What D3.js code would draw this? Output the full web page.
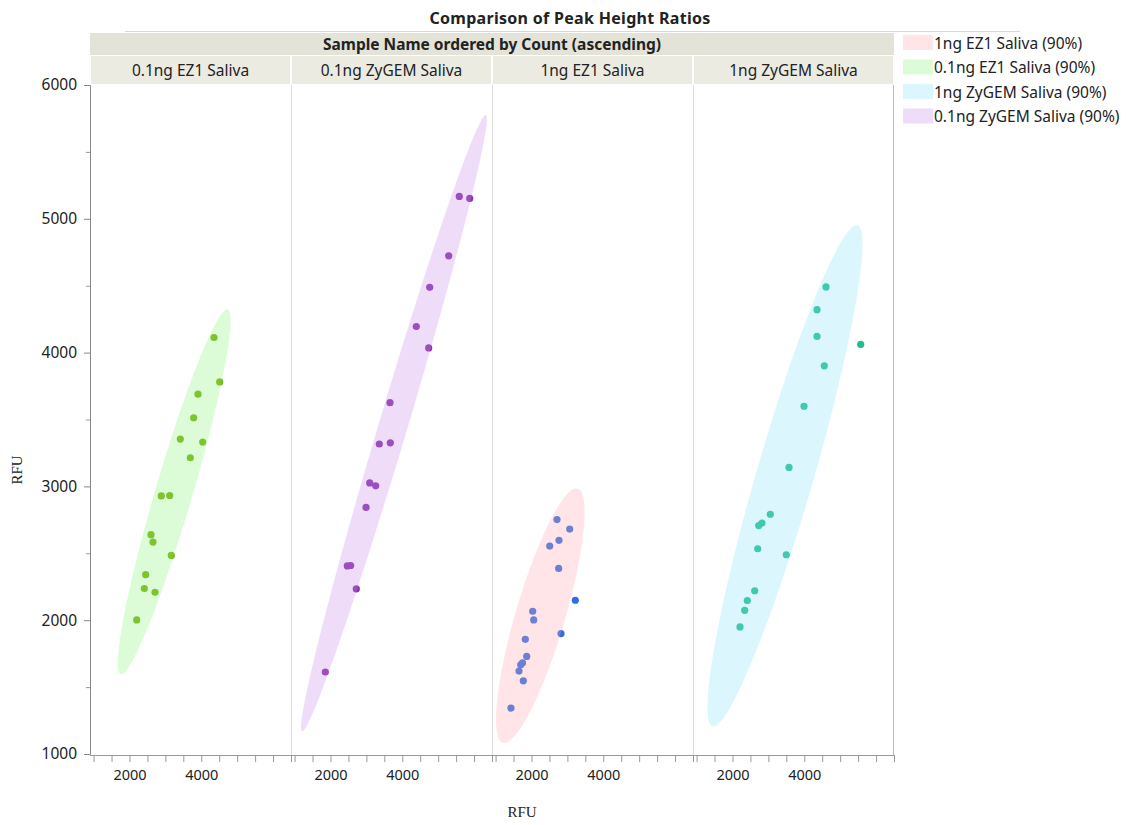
<!DOCTYPE html>
<html>
  <head>
    <meta charset="utf-8">
    <title>Comparison of Peak Height Ratios</title>
    <script src="https://d3js.org/d3.v7.min.js"></script>
    <style>
      body { margin: 0; background: #fff; }
      text { font-family: "Noto Sans", sans-serif; fill: #222; }
    </style>
  </head>
  <body>
    <script>
      var panels = ["0.1ng EZ1 Saliva", "0.1ng ZyGEM Saliva", "1ng EZ1 Saliva", "1ng ZyGEM Saliva"];
      var legendLabels = ["1ng EZ1 Saliva (90%)", "0.1ng EZ1 Saliva (90%)", "1ng ZyGEM Saliva (90%)", "0.1ng ZyGEM Saliva (90%)"];
      var yTicks = [1000, 2000, 3000, 4000, 5000, 6000];
      var xTickLabels = [2000, 4000];

      // RFU pairs, one list per panel
      var ez1Low_x   = [4355, 4513, 3909, 3789, 3416, 4040, 3694, 2886, 3120, 2599, 2655, 3165, 2452, 2413, 2711, 2201];
      var ez1Low_y   = [4113, 3781, 3689, 3513, 3354, 3331, 3214, 2929, 2932, 2639, 2584, 2484, 2340, 2237, 2209, 2002];
      var zyLow_x    = [5589, 5879, 5294, 4764, 4391, 4736, 3658, 3360, 3667, 3093, 3260, 2990, 2469, 2563, 2719, 1856];
      var zyLow_y    = [5167, 5152, 4723, 4488, 4195, 4035, 3626, 3317, 3326, 3026, 3004, 2843, 2406, 2409, 2234, 1613];
      var ez1High_x  = [2711, 3065, 2767, 2508, 2758, 3221, 2034, 2062, 2822, 1828, 1867, 1700, 1750, 1652, 1772, 1429];
      var ez1High_y  = [2752, 2681, 2597, 2554, 2387, 2149, 2067, 2002, 1900, 1857, 1729, 1667, 1682, 1620, 1547, 1343];
      var zyHigh_x   = [4605, 4355, 4355, 4558, 3992, 3575, 3054, 2822, 2730, 2703, 3499, 2619, 2413, 2340, 2209, 5572];
      var zyHigh_y   = [4491, 4321, 4121, 3901, 3599, 3142, 2792, 2726, 2707, 2534, 2489, 2220, 2147, 2074, 1950, 4061];

      var seriesX = [ez1Low_x, zyLow_x, ez1High_x, zyHigh_x];
      var seriesY = [ez1Low_y, zyLow_y, ez1High_y, zyHigh_y];
      var pointColors = ["#77b009", "#8836ad", "#2d6fe0", "#1fbf8f"];
      var shadeColors = ["#8af57d", "#c68ae8", "#ffa5b2", "#8ae1fc"];
      var legendColors = ["#ffa5b2", "#8af57d", "#8ae1fc", "#c68ae8"];
      var shadeOpacity = 0.3;
      var coverage = 0.9;

      var width = 1135, height = 825;
      var plotLeft = 90, plotRight = 894, plotTop = 85, plotBottom = 754;

      var svg = d3.select("body").append("svg").attr("width", width).attr("height", height);

      var panelScale = d3.scaleBand().domain(panels).range([plotLeft, plotRight]);
      var bw = panelScale.bandwidth();
      var yScale = d3.scaleLinear().domain([1000, 6000]).range([plotBottom, plotTop]);

      // title
      svg.append("text").attr("x", 570).attr("y", 24).attr("text-anchor", "middle")
        .style("font-size", "16px").style("font-weight", "bold").style("letter-spacing", "0.3px")
        .text("Comparison of Peak Height Ratios");
      svg.append("line").attr("x1", 125).attr("x2", 1020).attr("y1", 31.5).attr("y2", 31.5)
        .attr("stroke", "#d8d8d8");

      // header bands
      svg.append("rect").attr("x", plotLeft).attr("y", 33).attr("width", plotRight - plotLeft).attr("height", 22)
        .attr("fill", "#e3e3d7");
      svg.append("text").attr("x", 492).attr("y", 49.5).attr("text-anchor", "middle")
        .style("font-size", "15.5px").style("font-weight", "bold").text("Sample Name ordered by Count (ascending)");

      var heads = svg.append("g").selectAll("g").data(panels).enter().append("g");
      heads.append("rect")
        .attr("x", function(d) { return panelScale(d) + 1; })
        .attr("y", 56).attr("width", bw - 2).attr("height", 28)
        .attr("fill", "#ebebe2");
      heads.append("text")
        .attr("x", function(d) { return panelScale(d) + bw / 2; })
        .attr("y", 76).attr("text-anchor", "middle")
        .style("font-size", "15.5px").text(function(d) { return d; });

      // y axis
      var yAxis = d3.axisLeft(yScale).tickValues(yTicks).tickSize(6).tickPadding(7).tickFormat(d3.format("d"));
      var gy = svg.append("g").attr("transform", "translate(" + plotLeft + ",0)").call(yAxis);
      gy.select(".domain").attr("stroke", "#888");
      gy.selectAll(".tick line").attr("stroke", "#888");
      gy.selectAll("text").style("font-size", "15.5px").attr("fill", "#222");
      var gyMinor = svg.append("g").attr("transform", "translate(" + plotLeft + ",0)")
        .call(d3.axisLeft(yScale).tickValues(d3.range(1500, 6000, 1000)).tickSize(4).tickFormat(""));
      gyMinor.select(".domain").remove();
      gyMinor.selectAll(".tick line").attr("stroke", "#999");

      svg.append("text").attr("transform", "translate(22,470) rotate(-90)")
        .attr("text-anchor", "middle").style("font-family", "'Liberation Serif', serif")
        .style("font-size", "15px").text("RFU");
      svg.append("text").attr("x", 522).attr("y", 817).attr("text-anchor", "middle")
        .style("font-family", "'Liberation Serif', serif").style("font-size", "15px").text("RFU");

      // bottom line and frame
      svg.append("line").attr("x1", plotLeft).attr("x2", plotRight).attr("y1", plotBottom + 1.5).attr("y2", plotBottom + 1.5)
        .attr("stroke", "#999");
      svg.append("line").attr("x1", plotRight - 0.5).attr("x2", plotRight - 0.5).attr("y1", plotTop).attr("y2", plotBottom + 1)
        .attr("stroke", "#bbb");

      var defs = svg.append("defs");

      panels.forEach(function(name, i) {
        var x0 = panelScale(name);
        var xScale = d3.scaleLinear().domain([900, 6500]).range([x0, x0 + bw]);

        if (i > 0) {
          svg.append("line").attr("x1", x0 + 0.5).attr("x2", x0 + 0.5).attr("y1", plotTop).attr("y2", plotBottom + 1)
            .attr("stroke", "#dadada");
        }

        // x axis per panel
        var gx = svg.append("g").attr("transform", "translate(0," + (plotBottom + 1) + ")")
          .call(d3.axisBottom(xScale).tickValues(d3.range(1000, 6501, 500)).tickSize(7).tickFormat(""));
        gx.select(".domain").remove();
        gx.selectAll(".tick line").attr("stroke", "#999");
        var gxl = svg.append("g").attr("transform", "translate(0," + (plotBottom + 1) + ")")
          .call(d3.axisBottom(xScale).tickValues(xTickLabels).tickSize(0).tickPadding(15).tickFormat(d3.format("d")));
        gxl.select(".domain").remove();
        gxl.selectAll("text").style("font-size", "14.5px").attr("fill", "#222");

        var xs = seriesX[i], ys = seriesY[i];
        var pts = xs.map(function(v, k) { return [v, ys[k]]; });

        defs.append("clipPath").attr("id", "clip" + i).append("rect")
          .attr("x", x0 + 1).attr("y", plotTop).attr("width", bw - 1).attr("height", plotBottom - plotTop);
        var g = svg.append("g").attr("clip-path", "url(#clip" + i + ")");

        g.selectAll("circle").data(pts).enter().append("circle")
          .attr("cx", function(d) { return xScale(d[0]); })
          .attr("cy", function(d) { return yScale(d[1]); })
          .attr("r", 3.6)
          .attr("fill", pointColors[i]);

        // bivariate normal density ellipse
        var mx = d3.mean(xs), my = d3.mean(ys);
        var n = xs.length;
        var sxx = d3.sum(xs, function(v) { return (v - mx) * (v - mx); }) / (n - 1);
        var syy = d3.sum(ys, function(v) { return (v - my) * (v - my); }) / (n - 1);
        var sxy = d3.sum(xs, function(v, k) { return (v - mx) * (ys[k] - my); }) / (n - 1);
        var a = Math.sqrt(sxx), b = sxy / a, c = Math.sqrt(syy - b * b);
        var r = Math.sqrt(-2 * Math.log(1 - coverage));
        var ring = d3.range(0, 360, 3).map(function(deg) {
          var t = deg * Math.PI / 180;
          return [mx + r * a * Math.cos(t), my + r * (b * Math.cos(t) + c * Math.sin(t))];
        });
        var line = d3.line()
          .x(function(d) { return xScale(d[0]); })
          .y(function(d) { return yScale(d[1]); })
          .curve(d3.curveCardinalClosed);
        g.append("path").attr("d", line(ring))
          .attr("fill", shadeColors[i]).attr("fill-opacity", shadeOpacity).attr("stroke", "none");
      });

      // legend
      var leg = svg.append("g").selectAll("g").data(legendLabels).enter().append("g")
        .attr("transform", function(d, i) { return "translate(903," + (35 + i * 24.5) + ")"; });
      leg.append("rect").attr("width", 30).attr("height", 15)
        .attr("fill", function(d, i) { return legendColors[i]; }).attr("fill-opacity", shadeOpacity);
      leg.append("text").attr("x", 31).attr("y", 13.5).style("font-size", "15.5px").text(function(d) { return d; });
    </script>
  </body>
</html>
